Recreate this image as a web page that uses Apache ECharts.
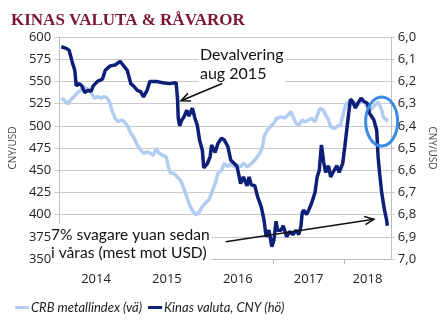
<!DOCTYPE html>
<html><head><meta charset="utf-8">
<script src="https://cdn.jsdelivr.net/npm/echarts@6/dist/echarts.min.js"></script>
<style>html,body{margin:0;padding:0;background:#fff}#c{width:445px;height:327px}</style>
</head><body><div id="c"></div>
<script>
const titleText = 'KINAS VALUTA & RÅVAROR';
const seriesNames = ['CRB metallindex (vä)', 'Kinas valuta, CNY (hö)'];
const axisNames = ['CNY/USD', 'CNY/USD'];
const yearTicks = [2014, 2015, 2016, 2017, 2018];
const yearLabelPos = [2014.5, 2015.5, 2016.5, 2017.5, 2018.33];

// CRB metallindex (left axis)
const crbYears = [2014.01,2014.05,2014.10,2014.14,2014.19,2014.23,2014.28,2014.32,2014.37,2014.41,2014.45,2014.48,2014.52,2014.57,2014.61,2014.66,2014.70,2014.72,2014.77,2014.81,2014.86,2014.90,2014.95,2014.99,2015.04,2015.08,2015.13,2015.17,2015.22,2015.26,2015.31,2015.35,2015.39,2015.44,2015.49,2015.52,2015.55,2015.60,2015.64,2015.69,2015.73,2015.78,2015.82,2015.87,2015.91,2015.96,2016.00,2016.04,2016.09,2016.13,2016.18,2016.22,2016.27,2016.31,2016.36,2016.40,2016.45,2016.49,2016.54,2016.58,2016.63,2016.67,2016.72,2016.76,2016.81,2016.85,2016.87,2016.92,2016.96,2017.01,2017.05,2017.07,2017.12,2017.16,2017.21,2017.25,2017.28,2017.32,2017.36,2017.41,2017.45,2017.50,2017.54,2017.59,2017.63,2017.66,2017.70,2017.74,2017.77,2017.81,2017.86,2017.90,2017.95,2017.99,2018.02,2018.06,2018.10,2018.15,2018.19,2018.24,2018.28,2018.33,2018.37,2018.44,2018.48,2018.53,2018.55,2018.62];
const crbValues = [531,529,524.5,529,533,536.6,540,544,542,540,534.7,531,533,531,533,531,525,518,508.5,504.6,506.5,504.6,499,491.6,486,478.4,472.8,469,470.8,469,467,474.7,469,467,465,454,446.5,446.5,442.7,439,431.5,420,410.8,403.3,399.6,403.3,409,412.7,416.5,424,435,446.5,450,457.8,454,457.8,454,456,454,457.8,454,456,459.6,463.4,469,476.5,487.8,495.3,499,503,508.5,506.5,510,508.5,512,516,510,503,501,506.5,504.6,506.5,508.5,504.6,514,519.7,518,512,508.5,499,497,499,501,514,523.4,527,523.4,527,523.4,527,527,521.5,518,523.4,527,518,510,505];

// Kinas valuta CNY per USD (right axis, inverted)
const cnyYears = [2014.01,2014.08,2014.12,2014.17,2014.20,2014.22,2014.26,2014.30,2014.34,2014.39,2014.43,2014.46,2014.52,2014.59,2014.63,2014.70,2014.77,2014.84,2014.88,2014.94,2014.99,2015.04,2015.08,2015.13,2015.17,2015.22,2015.26,2015.35,2015.44,2015.53,2015.63,2015.65,2015.66,2015.68,2015.71,2015.74,2015.78,2015.81,2015.86,2015.89,2015.93,2015.96,2016.00,2016.02,2016.07,2016.11,2016.13,2016.18,2016.22,2016.27,2016.31,2016.36,2016.40,2016.45,2016.49,2016.54,2016.58,2016.63,2016.66,2016.69,2016.74,2016.78,2016.83,2016.87,2016.90,2016.94,2016.98,2017.01,2017.04,2017.06,2017.11,2017.14,2017.19,2017.23,2017.28,2017.32,2017.36,2017.39,2017.41,2017.43,2017.47,2017.50,2017.54,2017.59,2017.62,2017.65,2017.68,2017.71,2017.74,2017.78,2017.81,2017.86,2017.90,2017.93,2017.98,2018.01,2018.05,2018.07,2018.09,2018.12,2018.16,2018.19,2018.24,2018.28,2018.33,2018.36,2018.42,2018.46,2018.48,2018.50,2018.53,2018.57,2018.60,2018.61];
const cnyValues = [6.044,6.051,6.06,6.12,6.15,6.22,6.21,6.22,6.25,6.24,6.245,6.22,6.20,6.19,6.15,6.13,6.126,6.11,6.126,6.15,6.21,6.224,6.24,6.246,6.27,6.24,6.20,6.20,6.206,6.21,6.206,6.28,6.366,6.40,6.374,6.36,6.33,6.356,6.32,6.36,6.40,6.464,6.51,6.59,6.57,6.54,6.486,6.52,6.48,6.456,6.464,6.494,6.554,6.57,6.584,6.66,6.63,6.67,6.63,6.666,6.67,6.72,6.764,6.824,6.90,6.87,6.945,6.914,6.83,6.87,6.87,6.85,6.90,6.877,6.89,6.87,6.89,6.854,6.79,6.78,6.80,6.78,6.75,6.70,6.63,6.60,6.486,6.56,6.61,6.58,6.63,6.60,6.58,6.61,6.57,6.494,6.384,6.33,6.28,6.29,6.32,6.30,6.276,6.29,6.30,6.344,6.374,6.42,6.54,6.61,6.70,6.78,6.824,6.85];

// Annotations (data coordinates on x / right axis)
const noteTexts = ['Devalvering\naug 2015', '7% svagare yuan sedan\ni våras (mest mot USD)'];
const arrowDevalFrom = [2016.28, 6.209];
const arrowDevalTo = [2015.70, 6.287];
const arrowWeakFrom = [2016.33, 6.922];
const arrowWeakTo = [2018.42, 6.821];
const circleCenter = [2018.53, 6.381];

const LIGHT = '#b2cdf1';
const DARK = '#0e1f78';
const GRID = '#c9c9c9';

const chart = echarts.init(document.getElementById('c'), null, {renderer: 'canvas'});
const zip = (xs, ys) => xs.map((x, i) => [x, ys[i]]);
const numFont = 'Open Sans';

chart.setOption({
  animation: false,
  title: {
    text: titleText, left: 6, top: 7,
    textStyle: {fontFamily: 'Liberation Serif', fontWeight: 'bold', fontSize: 17, color: '#7a1532'}
  },
  legend: {
    left: 10, top: 296, itemGap: 6, itemWidth: 14, itemHeight: 3,
    icon: 'rect',
    data: seriesNames,
    textStyle: {fontFamily: 'Lato', fontStyle: 'italic', fontSize: 13, color: '#222', padding: [0, 0, 0, -3]}
  },
  grid: {left: 51, right: 47, top: 37, bottom: 68, containLabel: false},
  xAxis: {
    type: 'value', min: 2013.98, max: 2018.66,
    axisLine: {show: true, lineStyle: {color: '#bdbdbd', width: 1}},
    axisTick: {show: true, customValues: yearTicks, length: 5, lineStyle: {color: '#bdbdbd'}},
    axisLabel: {customValues: yearLabelPos, formatter: v => String(Math.floor(v + 1e-6)),
      fontFamily: numFont, fontSize: 13, color: '#222', margin: 14},
    splitLine: {show: false}
  },
  yAxis: [{
    type: 'value', position: 'left', min: 350, max: 600, interval: 25,
    name: axisNames[0], nameLocation: 'middle', nameGap: 40,
    nameTextStyle: {fontFamily: numFont, fontSize: 10, color: '#444'},
    axisLine: {show: true, lineStyle: {color: '#bdbdbd'}},
    axisTick: {show: true, length: 5, lineStyle: {color: GRID}},
    axisLabel: {fontFamily: numFont, fontSize: 13, color: '#222', margin: 8},
    splitLine: {show: true, lineStyle: {color: GRID, width: 1}}
  }, {
    type: 'value', position: 'right', min: 6.0, max: 7.0, interval: 0.1, inverse: true,
    name: axisNames[1], nameLocation: 'middle', nameGap: 31, nameRotate: -90,
    nameTextStyle: {fontFamily: numFont, fontSize: 10, color: '#444'},
    axisLine: {show: true, lineStyle: {color: '#bdbdbd'}},
    axisTick: {show: true, length: 4, lineStyle: {color: GRID}},
    axisLabel: {fontFamily: numFont, fontSize: 13, color: '#222', margin: 7,
      formatter: v => v.toFixed(1).replace('.', ',')},
    splitLine: {show: false}
  }],
  series: [{
    name: seriesNames[0], type: 'line', yAxisIndex: 0, showSymbol: false, symbol: 'none',
    data: zip(crbYears, crbValues), lineStyle: {color: LIGHT, width: 3.5}, itemStyle: {color: LIGHT}, z: 2
  }, {
    name: seriesNames[1], type: 'line', yAxisIndex: 1, showSymbol: false, symbol: 'none',
    data: zip(cnyYears, cnyValues), lineStyle: {color: DARK, width: 3.5}, itemStyle: {color: DARK}, z: 3
  }]
});

function px(p) { return chart.convertToPixel({xAxisIndex: 0, yAxisIndex: 1}, p); }
function arrow(from, to) {
  const a = px(from), b = px(to);
  const ang = Math.atan2(a[1] - b[1], a[0] - b[0]);
  const L = 10, s = 0.42;
  const p1 = [b[0] + L * Math.cos(ang + s), b[1] + L * Math.sin(ang + s)];
  const p2 = [b[0] + L * Math.cos(ang - s), b[1] + L * Math.sin(ang - s)];
  return [
    {type: 'line', z: 100, shape: {x1: a[0], y1: a[1], x2: b[0], y2: b[1]}, style: {stroke: '#111', lineWidth: 1.6}},
    {type: 'polyline', z: 100, shape: {points: [p1, b, p2]}, style: {stroke: '#111', lineWidth: 1.6, fill: null}}
  ];
}
const cc = px(circleCenter);
chart.setOption({
  graphic: [
    {type: 'text', z: 100, left: 199, top: 44,
      style: {text: noteTexts[0], fontFamily: 'Lato', fontSize: 16, lineHeight: 18.5, fill: '#111',
        backgroundColor: '#fff', padding: [2, 2, 2, 1]}},
    {type: 'text', z: 100, left: 51, top: 223.5,
      style: {text: noteTexts[1], fontFamily: 'Lato', fontSize: 15.6, lineHeight: 18, fill: '#111',
        backgroundColor: '#fff', padding: [2, 2, 2, 0]}},
    ...arrow(arrowDevalFrom, arrowDevalTo),
    ...arrow(arrowWeakFrom, arrowWeakTo),
    {type: 'ellipse', z: 100, shape: {cx: cc[0], cy: cc[1], rx: 16, ry: 24.5},
      style: {stroke: '#3a8be6', lineWidth: 3, fill: null}}
  ]
});
</script></body></html>
